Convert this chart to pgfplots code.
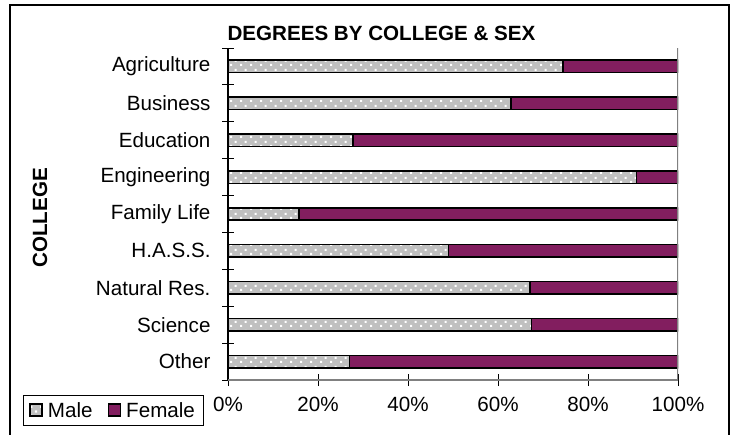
\documentclass[border=0pt]{standalone}
\usepackage{pgfplots}
\pgfplotsset{compat=1.18}
\usepackage{fontspec}
\setmainfont{Liberation Sans}
\usetikzlibrary{patterns.meta}
\definecolor{malegray}{RGB}{192,192,192}
\definecolor{femplum}{RGB}{130,30,95}
\pgfdeclarepattern{
  name=xdots,
  parameters={},
  bottom left={\pgfpoint{0pt}{0pt}},
  top right={\pgfpoint{10pt}{9pt}},
  tile size={\pgfpoint{10pt}{9pt}},
  code={
    \pgfpathrectangle{\pgfpoint{0pt}{0pt}}{\pgfpoint{2.4pt}{2.4pt}}
    \pgfpathrectangle{\pgfpoint{5pt}{4.5pt}}{\pgfpoint{2.4pt}{2.4pt}}
    \pgfusepath{fill}
  }
}
\pgfplotstableread{
y male female
0 74.4 25.6
1 62.9 37.1
2 27.8 72.2
3 90.8 9.2
4 15.8 84.2
5 49.0 51.0
6 67.1 32.9
7 67.4 32.6
8 27.0 73.0
}\degrees
\begin{document}
\begin{tikzpicture}[x=1pt,y=1pt,font=\fontsize{20.6}{24}\selectfont]
\useasboundingbox (0,0) rectangle (735,435);
\draw[line width=1.5pt] (10,-10) -- (10,430) -- (729,430) -- (729,-10);
\begin{axis}[
  at={(228pt,55pt)}, anchor=south west,
  scale only axis, width=450pt, height=332pt,
  xbar stacked, bar width=12.5pt,
  xmin=0, xmax=100,
  ymin=-0.5, ymax=8.5, y dir=reverse,
  axis lines*=left,
  axis line style={line width=1.2pt, black},
  xtick={0,20,40,60,80,100},
  xticklabels={0\%,20\%,40\%,60\%,80\%,100\%},
  ytick={0,...,8},
  yticklabels={Agriculture,Business,Education,Engineering,Family Life,H.A.S.S.,Natural Res.,Science,Other},
  minor ytick={-0.5,0.5,...,8.5},
  tick align=center,
  major tick length=12pt, minor tick length=12pt,
  every major y tick/.append style={draw=none},
  tick style={line width=1pt, black},
  yticklabel style={xshift=-8pt},
  xticklabel style={yshift=-8pt},
  legend style={at={(axis description cs:-0.4556,-0.045)}, anchor=north west,
    draw=black, line width=0.8pt, legend columns=2, inner xsep=6pt, inner ysep=5pt,
    nodes={inner xsep=2pt},
    /tikz/every even column/.append style={column sep=13pt}},
  legend image code/.code={\draw[#1, line width=1.6pt] (0pt,-5.5pt) rectangle (12pt,6.5pt);\path (15pt,0pt);},
]
\draw[line width=1.5pt, gray] (rel axis cs:0,0) -- (rel axis cs:1,0) -- (rel axis cs:1,1);
\addplot[fill=malegray, draw=black, line width=1.6pt, postaction={pattern={xdots}, pattern color=white}] table[x=male, y=y] {\degrees};
\addplot[fill=femplum, draw=black, line width=1.6pt] table[x=female, y=y] {\degrees};
\legend{Male,Female}
\end{axis}
\node[font=\fontsize{20.6}{24}\selectfont\bfseries] at (381.5,402) {DEGREES BY COLLEGE \& SEX};
\node[rotate=90, font=\fontsize{20.6}{24}\selectfont\bfseries] at (40,217) {COLLEGE};
\end{tikzpicture}
\end{document}
